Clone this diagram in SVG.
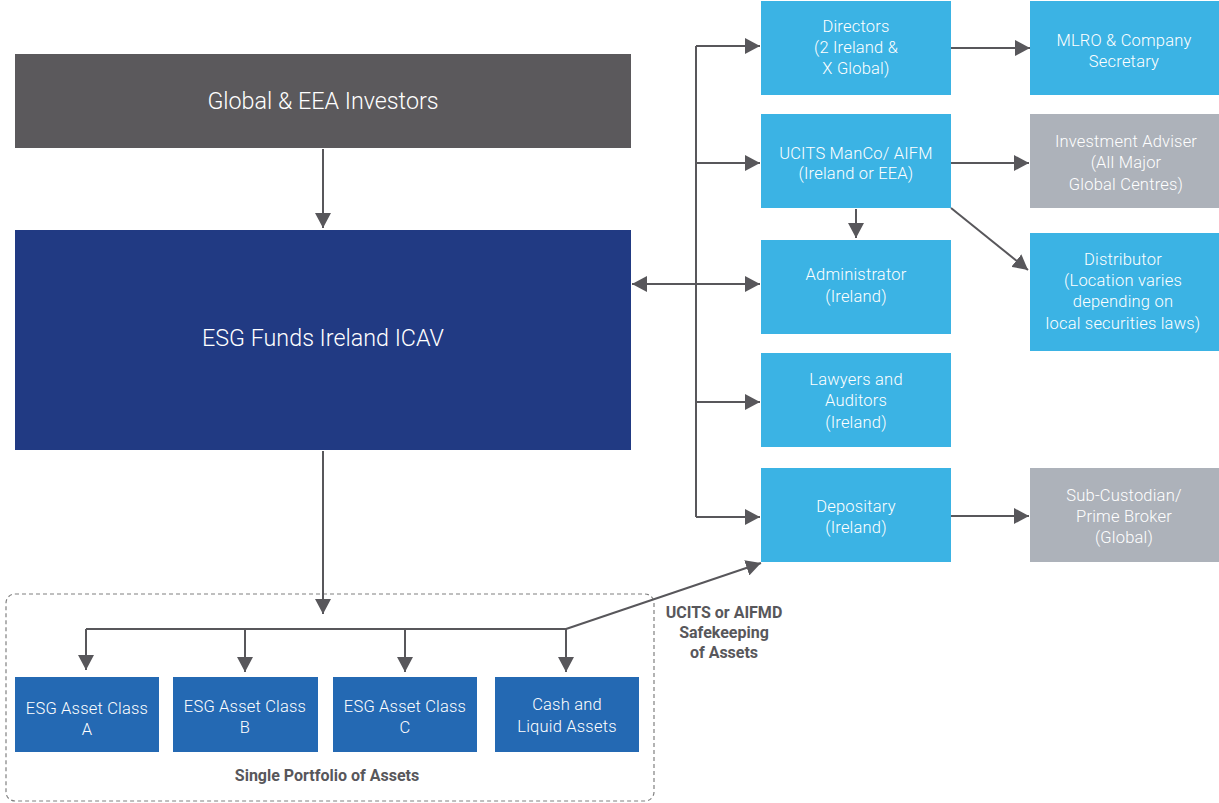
<svg xmlns="http://www.w3.org/2000/svg" width="1219" height="803" viewBox="0 0 1219 803">
<defs>
<marker id="ah" markerWidth="16" markerHeight="16" refX="15" refY="8" orient="auto-start-reverse" markerUnits="userSpaceOnUse">
<path d="M0,0 L15,8 L0,16 Z" fill="#58575b"/>
</marker>
<style>
.t{font-family:Roboto,"Liberation Sans",sans-serif;font-weight:300;fill:#ffffff;text-anchor:middle;font-size:16.5px;letter-spacing:0.2px}
.big{font-size:23.3px;letter-spacing:0}
.lab{font-family:Roboto,"Liberation Sans",sans-serif;font-weight:700;fill:#58575b;text-anchor:middle;font-size:16px}
.c{fill:none;stroke:#58575b;stroke-width:2}
.lb{fill:#3bb3e4}
.gr{fill:#adb2ba}
.db{fill:#2469b3}
</style>
</defs>
<rect width="1219" height="803" fill="#ffffff"/>
<rect x="6" y="594" width="648" height="207" rx="9" fill="none" stroke="#808080" stroke-width="1.2" stroke-dasharray="4,3"/>
<g id="connectors">
<path class="c" d="M323,149 V228" marker-end="url(#ah)"/>
<path class="c" d="M323,451 V614" marker-end="url(#ah)"/>
<path class="c" d="M86,629 H566"/>
<path class="c" d="M86,629 V670" marker-end="url(#ah)"/>
<path class="c" d="M245,629 V672" marker-end="url(#ah)"/>
<path class="c" d="M405,629 V672" marker-end="url(#ah)"/>
<path class="c" d="M566,629 V672" marker-end="url(#ah)"/>
<path class="c" d="M566,629 L761,563" marker-end="url(#ah)"/>
<path class="c" d="M696,46 V517"/>
<path class="c" d="M696,46 H760" marker-end="url(#ah)"/>
<path class="c" d="M696,163 H760" marker-end="url(#ah)"/>
<path class="c" d="M632,284 H760" marker-start="url(#ah)" marker-end="url(#ah)"/>
<path class="c" d="M696,402 H760" marker-end="url(#ah)"/>
<path class="c" d="M696,517 H760" marker-end="url(#ah)"/>
<path class="c" d="M951,48 H1030" marker-end="url(#ah)"/>
<path class="c" d="M951,163 H1029" marker-end="url(#ah)"/>
<path class="c" d="M856,209 V238" marker-end="url(#ah)"/>
<path class="c" d="M951,208 L1028,270" marker-end="url(#ah)"/>
<path class="c" d="M951,516 H1029" marker-end="url(#ah)"/>
</g>
<g id="investors"><rect x="15" y="54" width="616" height="94" fill="#5b595c"/><text class="t big" x="323" y="109">Global &amp; EEA Investors</text></g>
<g id="icav"><rect x="15" y="230" width="616" height="220" fill="#213a83"/><text class="t big" x="323" y="346">ESG Funds Ireland ICAV</text></g>
<g id="classA"><rect class="db" x="15" y="677" width="144" height="75"/><text class="t" x="87" y="714">ESG Asset Class</text><text class="t" x="87" y="735">A</text></g>
<g id="classB"><rect class="db" x="173" y="677" width="145" height="75"/><text class="t" x="245" y="712">ESG Asset Class</text><text class="t" x="245" y="733">B</text></g>
<g id="classC"><rect class="db" x="333" y="677" width="144" height="75"/><text class="t" x="405" y="712">ESG Asset Class</text><text class="t" x="405" y="733">C</text></g>
<g id="cash"><rect class="db" x="495" y="677" width="144" height="75"/><text class="t" x="567" y="710">Cash and</text><text class="t" x="567" y="732">Liquid Assets</text></g>
<g id="portfolio-label"><text class="lab" x="327" y="781">Single Portfolio of Assets</text></g>
<g id="safekeeping-label"><text class="lab" x="724" y="618">UCITS or AIFMD</text><text class="lab" x="724" y="638">Safekeeping</text><text class="lab" x="724" y="658">of Assets</text></g>
<g id="directors"><rect class="lb" x="761" y="1" width="190" height="94"/><text class="t" x="856" y="32">Directors</text><text class="t" x="856" y="53">(2 Ireland &amp;</text><text class="t" x="856" y="74">X Global)</text></g>
<g id="manco"><rect class="lb" x="761" y="114" width="190" height="94"/><text class="t" x="856" y="159">UCITS ManCo/ AIFM</text><text class="t" x="856" y="179">(Ireland or EEA)</text></g>
<g id="administrator"><rect class="lb" x="761" y="240" width="190" height="94"/><text class="t" x="856" y="280">Administrator</text><text class="t" x="856" y="302">(Ireland)</text></g>
<g id="lawyers"><rect class="lb" x="761" y="353" width="190" height="94"/><text class="t" x="856" y="385">Lawyers and</text><text class="t" x="856" y="406">Auditors</text><text class="t" x="856" y="428">(Ireland)</text></g>
<g id="depositary"><rect class="lb" x="761" y="468" width="190" height="94"/><text class="t" x="856" y="512">Depositary</text><text class="t" x="856" y="533">(Ireland)</text></g>
<g id="mlro"><rect class="lb" x="1030" y="1" width="189" height="94"/><text class="t" x="1124" y="46">MLRO &amp; Company</text><text class="t" x="1124" y="67">Secretary</text></g>
<g id="adviser"><rect class="gr" x="1030" y="114" width="189" height="94"/><text class="t" x="1126" y="147">Investment Adviser</text><text class="t" x="1126" y="168">(All Major</text><text class="t" x="1126" y="190">Global Centres)</text></g>
<g id="distributor"><rect class="lb" x="1030" y="233" width="189" height="118"/><text class="t" x="1123" y="265">Distributor</text><text class="t" x="1123" y="286">(Location varies</text><text class="t" x="1123" y="307">depending on</text><text class="t" x="1123" y="329">local securities laws)</text></g>
<g id="subcustodian"><rect class="gr" x="1030" y="468" width="189" height="94"/><text class="t" x="1124" y="501">Sub-Custodian/</text><text class="t" x="1124" y="522">Prime Broker</text><text class="t" x="1124" y="543">(Global)</text></g>
</svg>
